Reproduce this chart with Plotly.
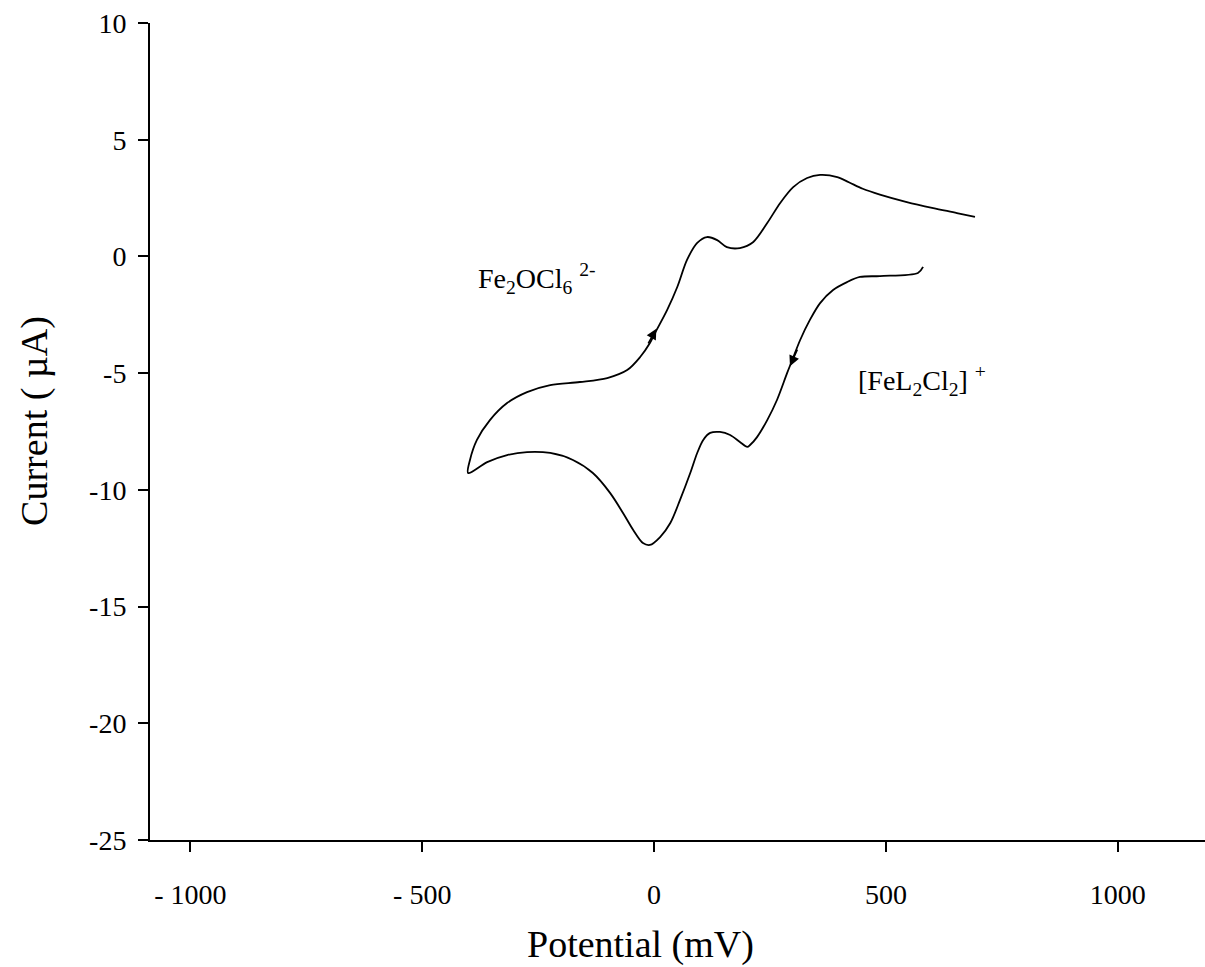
import plotly.graph_objects as go

# Cyclic voltammogram: scan starts at ~580 mV, sweeps negative to ~-400 mV, then returns positive
reverse_mv = [580, 569, 487, 444, 416, 386, 358, 336, 315, 298, 287, 265, 244, 222, 207, 201,
              185, 164, 142, 121, 106, 93, 78, 56, 35, 13, -9, -24, -45, -67, -95, -132,
              -175, -224, -274, -317, -360, -401]
reverse_ua = [-0.45, -0.71, -0.84, -0.88, -1.10, -1.44, -2.00, -2.72, -3.58, -4.44, -4.99, -6.15,
              -7.01, -7.74, -8.08, -8.16, -7.95, -7.65, -7.52, -7.56, -7.86, -8.42, -9.28, -10.43,
              -11.42, -12.02, -12.36, -12.28, -11.72, -10.99, -10.13, -9.28, -8.72, -8.42, -8.38,
              -8.51, -8.81, -9.28]

forward_mv = [-397, -382, -354, -317, -274, -224, -160, -101, -58, -30, -9, 2, 28, 50, 71, 93,
              114, 136, 157, 185, 214, 244, 272, 300, 330, 358, 395, 420, 450, 487, 545, 602, 653, 692]
forward_ua = [-8.72, -7.86, -7.01, -6.28, -5.81, -5.51, -5.38, -5.21, -4.87, -4.31, -3.71, -3.28,
              -2.30, -1.31, -0.15, 0.58, 0.83, 0.70, 0.40, 0.36, 0.62, 1.43, 2.29, 2.97, 3.36,
              3.49, 3.40, 3.18, 2.90, 2.65, 2.33, 2.07, 1.86, 1.69]

x_tickvals = [-1000, -500, 0, 500, 1000]
x_ticktext = ["- 1000", "- 500", "0", "500", "1000"]
y_tickvals = [10, 5, 0, -5, -10, -15, -20, -25]
y_ticktext = ["10", "5", "0", "-5", "-10", "-15", "-20", "-25"]

SERIF = "Liberation Serif"

fig = go.Figure()
fig.add_trace(go.Scatter(
    x=reverse_mv + forward_mv,
    y=reverse_ua + forward_ua,
    mode="lines",
    line=dict(color="black", width=1.8, shape="spline", smoothing=0.9),
    showlegend=False,
    hoverinfo="skip",
))

# Scan-direction arrows on the two branches
fig.add_annotation(x=5, y=-3.1, ax=-9, ay=16, xref="x", yref="y", text="",
                   showarrow=True, arrowhead=2, arrowsize=1.3, arrowwidth=1.6, arrowcolor="black")
fig.add_annotation(x=293, y=-4.7, ax=8, ay=-18, xref="x", yref="y", text="",
                   showarrow=True, arrowhead=2, arrowsize=1.3, arrowwidth=1.6, arrowcolor="black")

# Species labels
fig.add_annotation(x=-385, y=-0.95, xref="x", yref="y", xanchor="left", yanchor="middle",
                   text="Fe<sub>2</sub>OCl<sub>6</sub> <sup>2-</sup>", showarrow=False,
                   font=dict(family=SERIF, size=28, color="black"))
fig.add_annotation(x=435, y=-5.3, xref="x", yref="y", xanchor="left", yanchor="middle",
                   text="[FeL<sub>2</sub>Cl<sub>2</sub>] <sup>+</sup>", showarrow=False,
                   font=dict(family=SERIF, size=28, color="black"))

# Axis titles
fig.add_annotation(x=0.465, y=-0.128, xref="paper", yref="paper", xanchor="center", yanchor="middle",
                   text="Potential (mV)", showarrow=False,
                   font=dict(family=SERIF, size=38, color="black"))
fig.add_annotation(x=-0.109, y=0.513, xref="paper", yref="paper", xanchor="center", yanchor="middle",
                   text="Current ( µA)", textangle=-90, showarrow=False,
                   font=dict(family=SERIF, size=38, color="black"))

fig.update_xaxes(
    range=[-1087, 1188], tickvals=x_tickvals, ticktext=x_ticktext,
    showline=True, linecolor="black", linewidth=2, ticks="outside", ticklen=10,
    tickwidth=2, tickcolor="black", showgrid=False, zeroline=False,
    tickfont=dict(family=SERIF, size=28, color="black"), ticklabelstandoff=18,
)
fig.update_yaxes(
    range=[-25, 10], tickvals=y_tickvals, ticktext=y_ticktext,
    showline=True, linecolor="black", linewidth=2, ticks="outside", ticklen=10,
    tickwidth=2, tickcolor="black", showgrid=False, zeroline=False,
    tickfont=dict(family=SERIF, size=28, color="black"), ticklabelstandoff=6,
)
fig.update_layout(
    width=1205, height=967,
    margin=dict(l=150, r=0, t=23, b=127),
    paper_bgcolor="white", plot_bgcolor="white",
)

fig.write_html("out.html")
